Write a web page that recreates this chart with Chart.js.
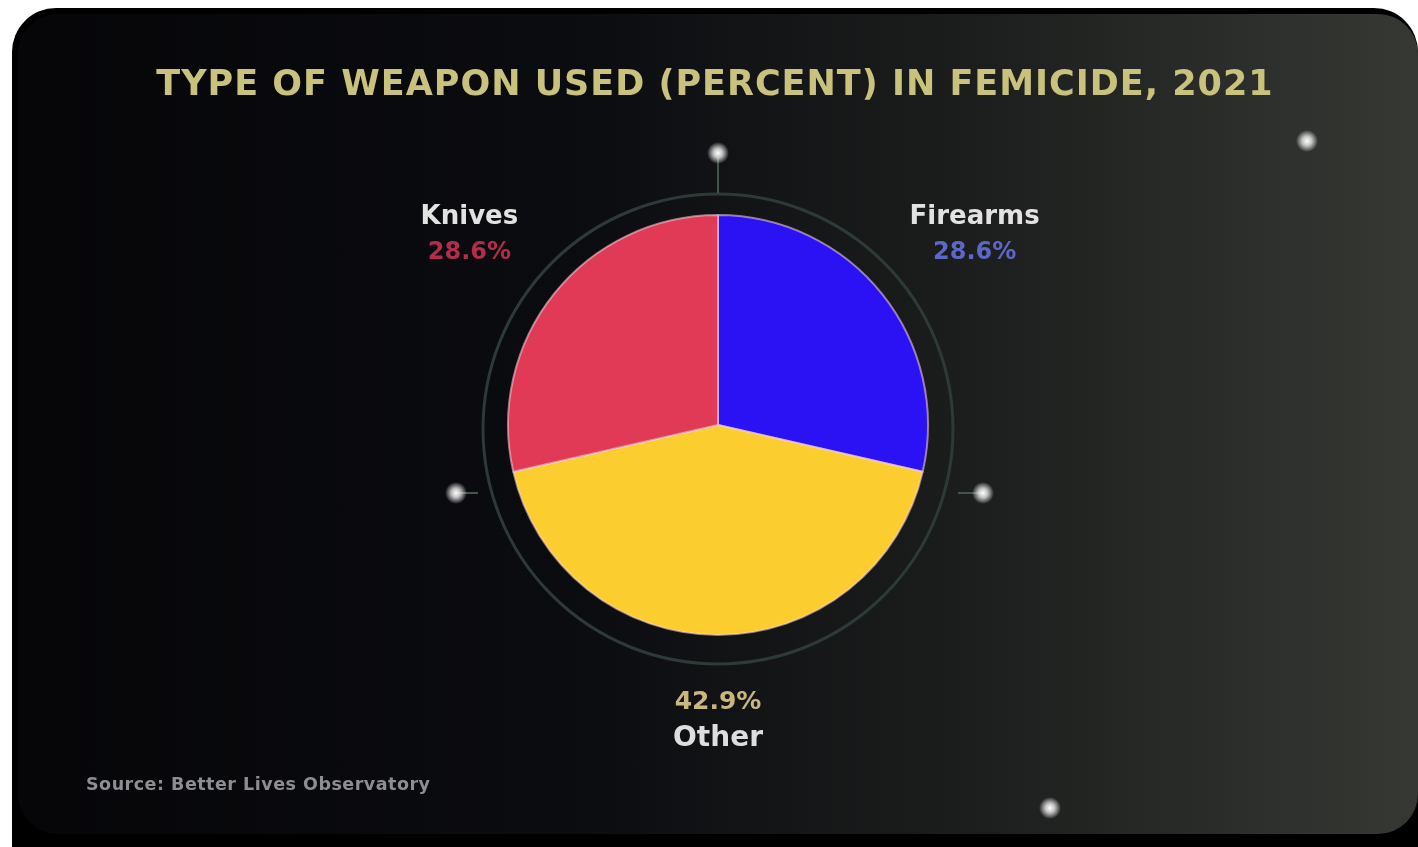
<!DOCTYPE html>
<html lang="en">

<head>
    <meta charset="UTF-8">
    <title>Type of Weapon Used in Femicide, 2021</title>
    <style>
        body {
            margin: 0;
            width: 1418px;
            height: 847px;
            background-color: #fff;
            overflow: hidden;
            font-family: 'DejaVu Sans', sans-serif;
        }

        #frame {
            position: absolute;
            left: 12px;
            top: 8px;
            right: 0;
            bottom: 0;
            background-color: #000;
            border-radius: 44px 44px 0 0;
        }

        #card {
            position: absolute;
            left: 18px;
            top: 14px;
            width: 1400px;
            height: 820px;
            border-radius: 40px;
            background: linear-gradient(90deg, #060609 0%, #0b0c10 40%, #1c1e1d 68%, #363834 100%);
            overflow: hidden;
        }

        #chart {
            position: absolute;
            left: 0;
            top: 0;
        }

        #title {
            position: absolute;
            left: 6px;
            width: 1418px;
            top: 63px;
            text-align: center;
            color: #c9c27c;
            font-weight: bold;
            font-size: 35px;
            letter-spacing: 1px;
        }

        #source {
            position: absolute;
            left: 86px;
            top: 774px;
            color: #8e8e92;
            font-weight: bold;
            font-size: 17.5px;
            letter-spacing: 0.5px;
        }
    </style>
</head>

<body>
    <div id="frame"></div>
    <div id="card"></div>
    <canvas id="chart" width="1418" height="847"></canvas>
    <div id="title">TYPE OF WEAPON USED (PERCENT) IN FEMICIDE, 2021</div>
    <div id="source">Source: Better Lives Observatory</div>

    <script src="https://cdn.jsdelivr.net/npm/chart.js"></script>
    <script>
        const weapons = ['Firearms', 'Other', 'Knives'];
        const percents = [28.6, 42.9, 28.6];
        const sliceColors = ['#2a12f4', '#fbcd2f', '#e03a56'];
        const pctColors = ['#5b68c6', '#c9b77c', '#b42b4c'];

        // stars, ring and slice labels drawn round the pie
        const decorPlugin = {
            id: 'decor',
            beforeDatasetsDraw(chart) {
                const arc = chart.getDatasetMeta(0).data[0];
                const cx = arc.x, cy = arc.y, r = arc.outerRadius;
                const ctx = chart.ctx;
                ctx.save();
                ctx.beginPath();
                ctx.arc(cx, cy + 4, r + 25, 0, Math.PI * 2);
                ctx.strokeStyle = '#2e3a38';
                ctx.lineWidth = 3;
                ctx.stroke();
                // short connector lines to the ring
                ctx.strokeStyle = '#44544a';
                ctx.lineWidth = 2;
                ctx.beginPath();
                ctx.moveTo(cx, cy - r - 58);
                ctx.lineTo(cx, cy - r - 22);
                ctx.moveTo(cx - r - 50, cy + 68);
                ctx.lineTo(cx - r - 30, cy + 68);
                ctx.moveTo(cx + r + 54, cy + 68);
                ctx.lineTo(cx + r + 30, cy + 68);
                ctx.stroke();
                ctx.restore();
            },
            afterDraw(chart) {
                const ctx = chart.ctx;
                const arc = chart.getDatasetMeta(0).data[0];
                const cx = arc.x, cy = arc.y, r = arc.outerRadius;
                const stars = [
                    [cx, cy - r - 62], [cx - r - 52, cy + 68], [cx + r + 55, cy + 68],
                    [1307, 141], [1050, 808]
                ];
                ctx.save();
                stars.forEach(([x, y]) => {
                    const g = ctx.createRadialGradient(x, y, 0, x, y, 11);
                    g.addColorStop(0, 'rgba(255,255,255,1)');
                    g.addColorStop(0.4, 'rgba(240,240,240,0.8)');
                    g.addColorStop(1, 'rgba(255,255,255,0)');
                    ctx.fillStyle = g;
                    ctx.beginPath();
                    ctx.arc(x, y, 11, 0, Math.PI * 2);
                    ctx.fill();
                });

                // labels
                const dists = [318, 292, 318];
                chart.getDatasetMeta(0).data.forEach((el, i) => {
                    const mid = (el.startAngle + el.endAngle) / 2;
                    const lx = cx + Math.cos(mid) * dists[i];
                    const ly = cy + Math.sin(mid) * dists[i];
                    ctx.textAlign = 'center';
                    ctx.textBaseline = 'middle';
                    const pct = percents[i].toFixed(1) + '%';
                    if (i === 1) {
                        ctx.font = 'bold 25px "DejaVu Sans"';
                        ctx.fillStyle = pctColors[i];
                        ctx.fillText(pct, lx, ly - 15);
                        ctx.font = 'bold 28px "DejaVu Sans"';
                        ctx.fillStyle = '#dedede';
                        ctx.fillText(weapons[i], lx, ly + 22);
                    } else {
                        const dx = i === 0 ? 8 : 0;
                        ctx.font = 'bold 26px "DejaVu Sans"';
                        ctx.fillStyle = '#e2e2e2';
                        ctx.fillText(weapons[i], lx + dx, ly - 9);
                        ctx.font = 'bold 24px "DejaVu Sans"';
                        ctx.fillStyle = pctColors[i];
                        ctx.fillText(pct, lx + dx, ly + 26);
                    }
                });
                ctx.restore();
            }
        };

        new Chart(document.getElementById('chart'), {
            type: 'pie',
            data: {
                labels: weapons,
                datasets: [{
                    data: percents,
                    backgroundColor: sliceColors,
                    borderColor: 'rgba(255, 215, 225, 0.55)',
                    borderWidth: 2
                }]
            },
            options: {
                responsive: false,
                animation: false,
                events: [],
                layout: {
                    padding: { left: 507, right: 489, top: 214, bottom: 211 }
                },
                plugins: {
                    legend: { display: false },
                    tooltip: { enabled: false }
                }
            },
            plugins: [decorPlugin]
        });
    </script>
</body>

</html>
